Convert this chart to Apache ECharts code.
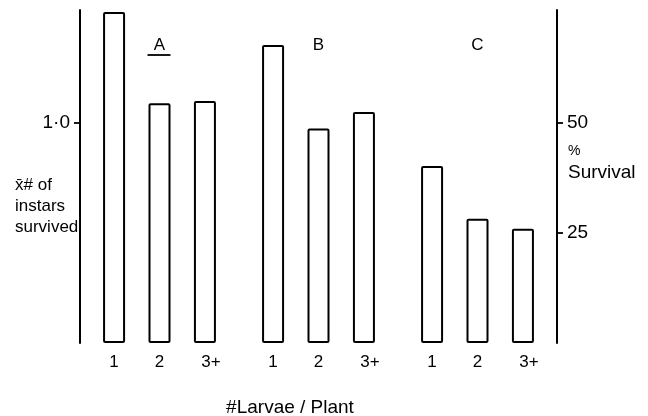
<!DOCTYPE html>
<html>
<head>
<meta charset="utf-8">
<script src="https://cdn.jsdelivr.net/npm/echarts@6/dist/echarts.min.js"></script>
<style>
  html, body { margin: 0; padding: 0; background: #fff; }
  #chart { width: 648px; height: 416px; }
</style>
</head>
<body>
<div id="chart"></div>
<script>
// Mean number of instars survived per group, by number of larvae per plant
const groups = ['A', 'B', 'C'];
const larvaePerPlant = ['1', '2', '3+'];
const instarsA = [1.505, 1.09, 1.10];
const instarsB = [1.355, 0.975, 1.05];
const instarsC = [0.805, 0.565, 0.52];
const leftTicks = [1];          // x̄ # of instars survived
const rightTicks = [25, 50];    // % survival
const leftMax = 1.514;
const pctPerInstar = 50;        // 1.0 instar ≙ 50 % survival

const groupValues = [instarsA, instarsB, instarsC];

// Build the category slots: a blank slot between bars, two between groups
const slots = [];
const slotLabels = [];
const barData = [];
function pushGap(id) { slots.push(id); slotLabels.push(''); barData.push('-'); }
pushGap('gap-start');
groups.forEach((g, gi) => {
  larvaePerPlant.forEach((lp, i) => {
    slots.push(g + '-' + lp);
    slotLabels.push(lp);
    barData.push(groupValues[gi][i]);
    if (i < larvaePerPlant.length - 1) pushGap(g + '-gap-' + i);
  });
  if (gi < groups.length - 1) { pushGap(g + '-sep-0'); pushGap(g + '-sep-1'); }
});
pushGap('gap-end');

const FONT = '"Liberation Sans", Arial, Helvetica, sans-serif';
const chart = echarts.init(document.getElementById('chart'), null, { renderer: 'canvas' });

chart.setOption({
  backgroundColor: '#ffffff',
  animation: false,
  grid: { left: 80, right: 91, top: 10, bottom: 73 },
  xAxis: {
    type: 'category',
    data: slots,
    boundaryGap: true,
    axisLine: { show: false },
    axisTick: { show: false },
    splitLine: { show: false },
    axisLabel: {
      interval: 0,
      margin: 11,
      color: '#000',
      fontFamily: FONT,
      fontSize: 17,
      // "3+" sits with its digit under the bar and the plus trailing
      formatter: (v, idx) => {
        const t = slotLabels[idx];
        return t.indexOf('+') >= 0 ? '{plus|' + t + '}' : t;
      },
      rich: {
        plus: { fontFamily: FONT, fontSize: 17, color: '#000', padding: [0, 0, 0, 12] }
      }
    }
  },
  yAxis: [
    {
      type: 'value',
      position: 'left',
      min: 0,
      max: leftMax,
      splitLine: { show: false },
      axisLine: { show: true, lineStyle: { color: '#000', width: 2 } },
      axisTick: { show: true, length: 6, customValues: leftTicks, lineStyle: { color: '#000', width: 1.8 } },
      axisLabel: {
        customValues: leftTicks,
        margin: 10,
        color: '#000',
        fontFamily: FONT,
        fontSize: 19,
        formatter: v => v.toFixed(1).replace('.', '·')
      }
    },
    {
      type: 'value',
      position: 'right',
      min: 0,
      max: leftMax * pctPerInstar,
      splitLine: { show: false },
      axisLine: { show: true, lineStyle: { color: '#000', width: 2 } },
      axisTick: { show: true, length: 6, customValues: rightTicks, lineStyle: { color: '#000', width: 1.8 } },
      axisLabel: {
        customValues: rightTicks,
        margin: 10,
        color: '#000',
        fontFamily: FONT,
        fontSize: 19
      }
    }
  ],
  series: [
    {
      type: 'bar',
      yAxisIndex: 0,
      data: barData,
      barWidth: 22,
      itemStyle: { color: '#ffffff', borderColor: '#000', borderWidth: 2, borderRadius: 1 }
    }
  ]
});

// Group letters above each group, centred on its middle bar
const graphics = [];
groups.forEach((g, gi) => {
  const mid = g + '-' + larvaePerPlant[1];
  const x = chart.convertToPixel({ xAxisIndex: 0 }, mid);
  graphics.push({
    type: 'text', x: x, y: 45,
    style: { text: g, font: '17px ' + FONT, fill: '#000', align: 'center', verticalAlign: 'middle' }
  });
  if (gi === 0) {
    graphics.push({
      type: 'line',
      shape: { x1: x - 12, y1: 55, x2: x + 11, y2: 55 },
      style: { stroke: '#000', lineWidth: 1.8 }
    });
  }
});

// Axis titles
graphics.push(
  {
    type: 'text', x: 15, y: 175,
    style: {
      text: 'x\u0304# of\ninstars\nsurvived',
      font: '17px ' + FONT, fill: '#000', align: 'left', verticalAlign: 'top', lineHeight: 21
    }
  },
  {
    type: 'text', x: 568, y: 151,
    style: { text: '%', font: '14px ' + FONT, fill: '#000', align: 'left', verticalAlign: 'middle' }
  },
  {
    type: 'text', x: 568, y: 173,
    style: { text: 'Survival', font: '19px ' + FONT, fill: '#000', align: 'left', verticalAlign: 'middle' }
  },
  {
    type: 'text', x: 290, y: 408,
    style: { text: '#Larvae / Plant', font: '19px ' + FONT, fill: '#000', align: 'center', verticalAlign: 'middle' }
  }
);
chart.setOption({ graphic: graphics });
</script>
</body>
</html>
